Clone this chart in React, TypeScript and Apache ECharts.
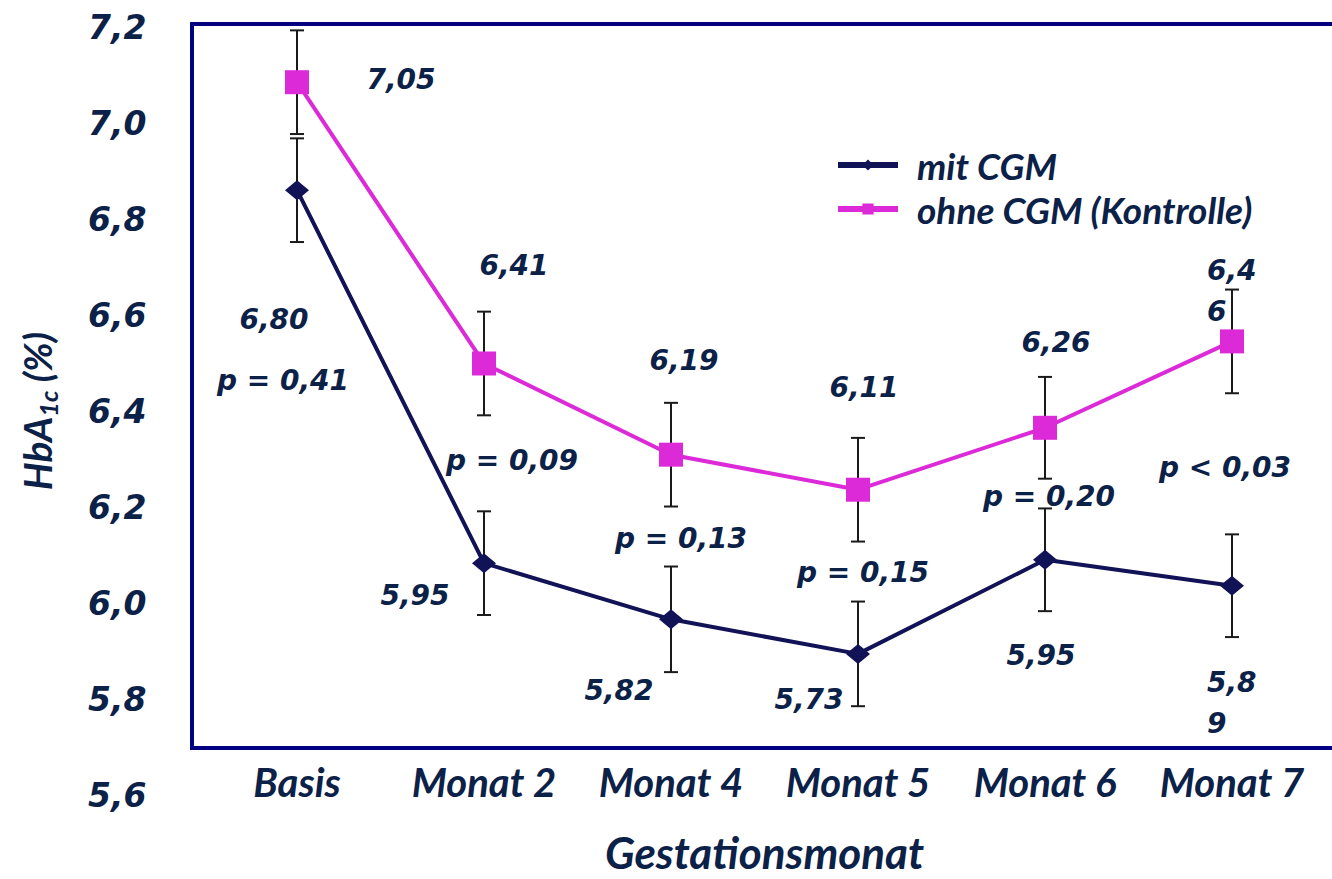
import React, { useEffect, useRef } from "react";
import * as echarts from "echarts";

// ---- data ----
const categories = ["Basis", "Monat 2", "Monat 4", "Monat 5", "Monat 6", "Monat 7"];
const mitCGM = [6.86, 6.083, 5.966, 5.894, 6.09, 6.036];
const ohneCGM = [7.085, 6.499, 6.309, 6.236, 6.365, 6.545];
const mitCGMErr = [0.108, 0.108, 0.11, 0.109, 0.107, 0.107];
const ohneCGMErr = [0.108, 0.108, 0.108, 0.108, 0.106, 0.108];
const yTicks = { min: 5.6, max: 7.2, step: 0.2 };
const seriesNames = ["mit CGM", "ohne CGM (Kontrolle)"];

// annotation texts placed in data coordinates (category index, HbA1c value)
const noteText = [
  "7,05", "6,80", "p = 0,41",
  "6,41", "p = 0,09", "5,95",
  "6,19", "p = 0,13", "5,82",
  "6,11", "p = 0,15", "5,73",
  "6,26", "p = 0,20", "5,95",
  "6,4\n6", "p < 0,03", "5,8\n9",
];
const noteCat = [0, 0, 0, 1, 1, 1, 2, 2, 2, 3, 3, 3, 4, 4, 4, 5, 5, 5];
const noteValue = [
  7.091, 6.591, 6.464,
  6.704, 6.297, 6.015,
  6.505, 6.135, 5.818,
  6.449, 6.063, 5.799,
  6.542, 6.221, 5.89,
  6.649, 6.283, 5.792,
];
const noteShift = [104, -23, -14, 30, 28, -69, 13, 10, -52, 6, 5, -49, 11, 4, -4, -25, -7, -25];
const noteLeftAligned = [false, false, false, false, false, false, false, false, false, false, false, false, false, false, false, true, false, true];

const TEXT = "#0c2148";
const NAVY = "#000080";
const DARK = "#121257";
const PINK = "#dc2ad8";

export default function App() {
  const ref = useRef<HTMLDivElement>(null);

  useEffect(() => {
    if (!ref.current) return;
    const chart = echarts.init(ref.current, undefined, { renderer: "svg" });

    const boldItalic = { fontStyle: "italic" as const, fontWeight: "bold" as const, color: TEXT };

    const errData = (means: number[], errs: number[]) =>
      means.map((m, i) => [i, m - errs[i], m + errs[i]]);

    const renderErr = (params: any, api: any) => {
      const x = api.value(0);
      const lo = api.coord([x, api.value(1)]);
      const hi = api.coord([x, api.value(2)]);
      const cap = 7;
      const style = { stroke: "#1a1a1a", lineWidth: 2, fill: "none" };
      return {
        type: "group",
        children: [
          { type: "line", shape: { x1: lo[0], y1: lo[1], x2: hi[0], y2: hi[1] }, style },
          { type: "line", shape: { x1: hi[0] - cap, y1: hi[1], x2: hi[0] + cap, y2: hi[1] }, style },
          { type: "line", shape: { x1: lo[0] - cap, y1: lo[1], x2: lo[0] + cap, y2: lo[1] }, style },
        ],
      };
    };

    const notes = noteText.map((t, i) => ({
      name: t,
      value: [noteCat[i], noteValue[i]],
      label: {
        align: noteLeftAligned[i] ? "left" : "center",
        offset: [noteShift[i], 0],
      },
    }));

    chart.setOption({
      animation: false,
      backgroundColor: "#ffffff",
      grid: { left: 203.5, right: 6.5, top: 27, bottom: 74, containLabel: false },
      graphic: [
        {
          type: "rect",
          shape: { x: 192, y: 24, width: 1150, height: 724 },
          style: { fill: "none", stroke: NAVY, lineWidth: 4 },
          silent: true,
          z: 1,
        },
      ],
      legend: {
        data: seriesNames,
        orient: "vertical",
        left: 830,
        top: 138,
        itemWidth: 60,
        itemHeight: 14,
        itemGap: 0,
        lineStyle: { width: 6 },
        textStyle: {
          ...boldItalic,
          fontFamily: "Lato",
          fontSize: 37,
          lineHeight: 44,
          padding: [0, 0, 0, 14],
        },
      },
      xAxis: {
        type: "category",
        data: categories,
        boundaryGap: true,
        axisLine: { show: false },
        axisTick: { show: false },
        splitLine: { show: false },
        axisLabel: {
          ...boldItalic,
          fontFamily: "Lato",
          fontSize: 40,
          verticalAlign: "middle",
          margin: -13,
          interval: 0,
        },
        name: "Gestationsmonat",
        nameLocation: "middle",
        nameGap: 57,
        nameTextStyle: {
          ...boldItalic,
          fontFamily: "Lato",
          fontSize: 44,
          verticalAlign: "middle",
          align: "center",
        },
      },
      yAxis: {
        type: "value",
        min: yTicks.min,
        max: yTicks.max,
        interval: yTicks.step,
        axisLine: { show: false },
        axisTick: { show: false },
        splitLine: { show: false },
        axisLabel: {
          ...boldItalic,
          fontFamily: "DejaVu Sans",
          fontSize: 33,
          margin: 57,
          formatter: (v: number) => v.toFixed(1).replace(".", ","),
        },
        name: "{a|HbA}{s|1c}{a| (%)}",
        nameLocation: "middle",
        nameRotate: 90,
        nameGap: 167,
        nameTextStyle: {
          align: "center",
          verticalAlign: "middle",
          rich: {
            a: { ...boldItalic, fontFamily: "Lato", fontSize: 39, lineHeight: 48, verticalAlign: "middle" },
            s: { ...boldItalic, fontFamily: "Lato", fontSize: 25, lineHeight: 48, verticalAlign: "bottom", padding: [15, 0, 0, 0] },
          },
        },
      },
      series: [
        {
          type: "custom",
          name: "err-mit",
          renderItem: renderErr,
          data: errData(mitCGM, mitCGMErr),
          z: 2,
          silent: true,
        },
        {
          type: "custom",
          name: "err-ohne",
          renderItem: renderErr,
          data: errData(ohneCGM, ohneCGMErr),
          z: 2,
          silent: true,
        },
        {
          type: "line",
          name: seriesNames[0],
          data: mitCGM,
          symbol: "diamond",
          symbolSize: [24, 20],
          lineStyle: { color: DARK, width: 4 },
          itemStyle: { color: DARK },
          z: 3,
        },
        {
          type: "line",
          name: seriesNames[1],
          data: ohneCGM,
          symbol: "rect",
          symbolSize: 24,
          lineStyle: { color: PINK, width: 4 },
          itemStyle: { color: PINK },
          z: 3,
        },
        {
          type: "scatter",
          name: "notes",
          data: notes,
          symbolSize: 0,
          itemStyle: { color: "#ffffff", opacity: 1 },
          silent: true,
          z: 4,
          label: {
            show: true,
            position: "inside",
            formatter: (p: any) => p.name,
            fontFamily: "DejaVu Sans",
            fontStyle: "italic",
            fontWeight: "bold",
            fontSize: 28,
            lineHeight: 41,
            color: TEXT,
            opacity: 1,
            textBorderWidth: 0,
          },
        },
      ],
    });

    return () => chart.dispose();
  }, []);

  return (
    <div
      ref={ref}
      style={{ position: "absolute", left: 0, top: 0, width: 1332, height: 879, background: "#fff" }}
    />
  );
}
